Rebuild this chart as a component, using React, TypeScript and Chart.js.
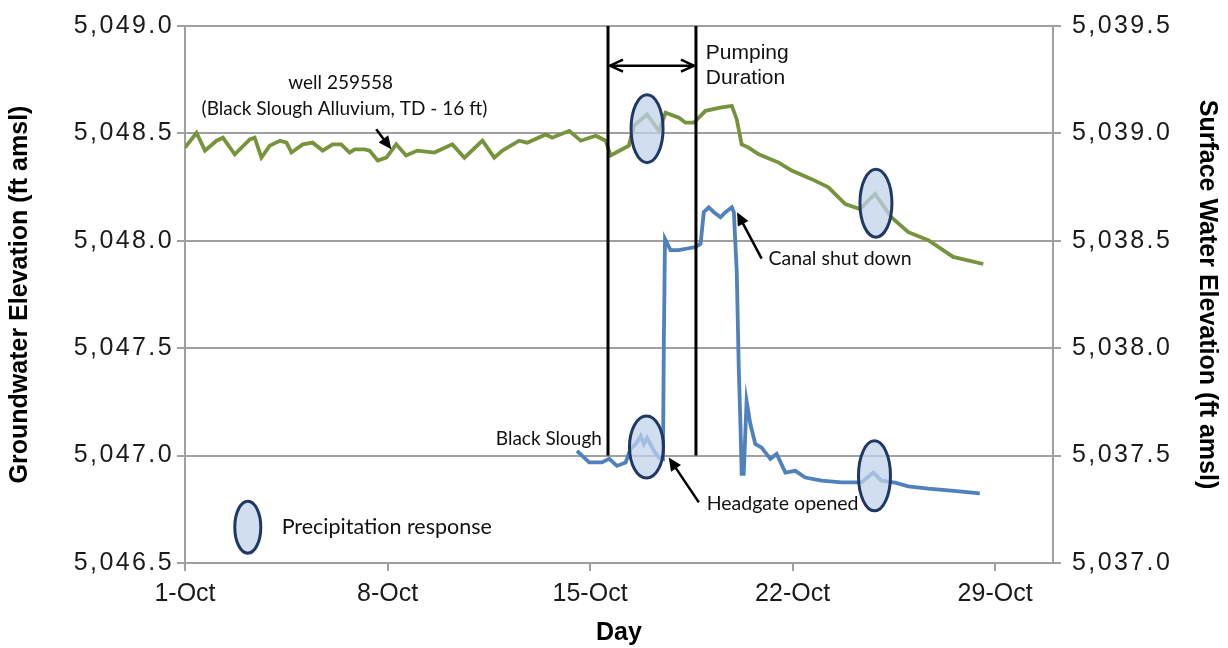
import React, { useEffect, useRef } from 'react';
import { Chart, registerables } from 'chart.js';

Chart.register(...registerables);

// ---- Data (day offset from 1-Oct, elevation ft amsl) ----
const gwDays = [0, 0.4, 0.69, 1.09, 1.31, 1.72, 2.24, 2.41, 2.64, 2.93, 3.28, 3.51, 3.68, 4.07, 4.41, 4.76, 5.1, 5.4, 5.69, 5.86, 6.21, 6.38, 6.66, 6.96, 7.3, 7.64, 8.03, 8.62, 9.24, 9.66, 10.28, 10.69, 10.97, 11.55, 11.83, 12.47, 12.69, 13.28, 13.68, 14.2, 14.54, 14.71, 15.34, 15.52, 15.97, 16.38, 16.61, 17.07, 17.3, 17.59, 17.99, 18.45, 18.9, 19.07, 19.24, 19.48, 19.83, 20.52, 20.97, 21.66, 22.24, 22.82, 23.33, 23.85, 24.41, 25.0, 25.69, 26.55, 27.59];
const gwElev = [5048.434, 5048.503, 5048.42, 5048.466, 5048.48, 5048.403, 5048.472, 5048.48, 5048.387, 5048.443, 5048.466, 5048.457, 5048.411, 5048.449, 5048.457, 5048.42, 5048.449, 5048.449, 5048.411, 5048.426, 5048.426, 5048.42, 5048.374, 5048.387, 5048.449, 5048.397, 5048.42, 5048.411, 5048.449, 5048.387, 5048.466, 5048.387, 5048.42, 5048.466, 5048.457, 5048.495, 5048.48, 5048.512, 5048.466, 5048.489, 5048.466, 5048.397, 5048.443, 5048.536, 5048.588, 5048.512, 5048.596, 5048.573, 5048.55, 5048.55, 5048.605, 5048.619, 5048.628, 5048.565, 5048.449, 5048.434, 5048.403, 5048.364, 5048.327, 5048.287, 5048.249, 5048.171, 5048.148, 5048.218, 5048.11, 5048.04, 5048.003, 5047.925, 5047.892];

const swDays = [13.55, 13.97, 14.41, 14.66, 14.93, 15.23, 15.4, 15.58, 15.75, 15.86, 15.97, 16.21, 16.38, 16.52, 16.55, 16.59, 16.78, 17.07, 17.64, 17.82, 17.93, 18.1, 18.28, 18.51, 18.68, 18.9, 18.97, 19.07, 19.14, 19.2, 19.24, 19.31, 19.41, 19.54, 19.71, 19.93, 20.23, 20.45, 20.75, 21.09, 21.44, 22.0, 22.69, 23.38, 23.79, 24.07, 24.54, 25.0, 25.69, 26.48, 27.47];
const swElev = [5037.522, 5037.468, 5037.468, 5037.485, 5037.452, 5037.468, 5037.531, 5037.554, 5037.591, 5037.554, 5037.583, 5037.522, 5037.491, 5037.485, 5038.031, 5038.509, 5038.457, 5038.457, 5038.471, 5038.486, 5038.633, 5038.656, 5038.633, 5038.61, 5038.633, 5038.656, 5038.633, 5038.355, 5037.907, 5037.63, 5037.415, 5037.415, 5037.753, 5037.647, 5037.554, 5037.537, 5037.485, 5037.508, 5037.421, 5037.429, 5037.398, 5037.383, 5037.375, 5037.375, 5037.421, 5037.383, 5037.374, 5037.357, 5037.346, 5037.337, 5037.324];

const xTickDays = [0, 7, 14, 21, 28];
const monthName = 'Oct';
const pumpingStartDay = 14.62;
const pumpingEndDay = 17.66;

// ---- Annotation layout (data coordinates on the left axis) ----
const precipEllipses = [
  { d: 15.97, v: 5048.522, rx: 16, ry: 34 },
  { d: 23.88, v: 5048.175, rx: 16, ry: 34 },
  { d: 15.95, v: 5047.04, rx: 17, ry: 31 },
  { d: 23.83, v: 5046.906, rx: 16, ry: 35 },
];
const legendEllipse = { d: 2.17, v: 5046.667, rx: 13, ry: 26 };

const CAL = 'Lato, "Open Sans", sans-serif';
const ARI = '"Liberation Sans", Arial, sans-serif';

const labels = [
  { text: 'well 259558', d: 5.38, v: 5048.735, align: 'center', font: `19px ${CAL}` },
  { text: '(Black Slough Alluvium, TD - 16 ft)', d: 5.51, v: 5048.615, align: 'center', font: `19px ${CAL}` },
  { text: 'Pumping', d: 18.0, v: 5048.874, align: 'left', font: `21px ${ARI}` },
  { text: 'Duration', d: 18.0, v: 5048.758, align: 'left', font: `21px ${ARI}` },
  { text: 'Canal shut down', d: 20.17, v: 5047.917, align: 'left', font: `19.5px ${CAL}` },
  { text: 'Headgate opened', d: 18.03, v: 5046.776, align: 'left', font: `19.5px ${CAL}` },
  { text: 'Black Slough', d: 14.41, v: 5047.077, align: 'right', font: `19px ${CAL}` },
  { text: 'Precipitation response', d: 3.34, v: 5046.667, align: 'left', font: `21.5px ${CAL}` },
];

const arrows = [
  { d1: 6.61, v1: 5048.519, d2: 7.13, v2: 5048.426 },
  { d1: 19.93, v1: 5047.917, d2: 19.08, v2: 5048.133 },
  { d1: 17.76, v1: 5046.782, d2: 16.72, v2: 5046.991 },
];
const pumpArrowValue = 5048.815;
const pumpLineBottom = 5047.0;

function head(ctx: CanvasRenderingContext2D, x1: number, y1: number, x2: number, y2: number, len: number, half: number, filled: boolean) {
  const a = Math.atan2(y2 - y1, x2 - x1);
  const lx = x2 - len * Math.cos(a);
  const ly = y2 - len * Math.sin(a);
  const nx = -Math.sin(a) * half;
  const ny = Math.cos(a) * half;
  ctx.beginPath();
  if (filled) {
    ctx.moveTo(x2, y2);
    ctx.lineTo(lx + nx, ly + ny);
    ctx.lineTo(lx - nx, ly - ny);
    ctx.closePath();
    ctx.fill();
  } else {
    ctx.moveTo(lx + nx, ly + ny);
    ctx.lineTo(x2, y2);
    ctx.lineTo(lx - nx, ly - ny);
    ctx.stroke();
  }
}

// widen spacing of the value-axis tick labels, as in the original
const spacingPlugin = {
  id: 'tickSpacing',
  afterLayout(chart: any) {
    ['y', 'y2'].forEach((id) => {
      const sc = chart.scales[id];
      if (!sc || sc._spacedPatch) return;
      const orig = sc.drawLabels.bind(sc);
      sc.drawLabels = (area: any) => {
        const c = chart.ctx;
        const prev = c.letterSpacing;
        c.letterSpacing = '2.4px';
        orig(area);
        c.letterSpacing = prev || '0px';
      };
      sc._spacedPatch = true;
    });
  },
};

const annotPlugin = {
  id: 'annots',
  afterDatasetsDraw(chart: any) {
    const { ctx, scales } = chart;
    const xs = scales.x;
    const ys = scales.y;
    const px = (d: number) => xs.getPixelForValue(d);
    const py = (v: number) => ys.getPixelForValue(v);
    ctx.save();

    // pumping lines
    ctx.strokeStyle = '#000';
    ctx.lineWidth = 3;
    [pumpingStartDay, pumpingEndDay].forEach((d) => {
      ctx.beginPath();
      ctx.moveTo(px(d), ys.top);
      ctx.lineTo(px(d), py(pumpLineBottom));
      ctx.stroke();
    });
    // pumping arrow
    const ay = py(pumpArrowValue);
    const ax1 = px(pumpingStartDay) + 2;
    const ax2 = px(pumpingEndDay) - 2;
    ctx.lineWidth = 2.5;
    ctx.beginPath();
    ctx.moveTo(ax1, ay);
    ctx.lineTo(ax2, ay);
    ctx.stroke();
    head(ctx, ax2, ay, ax1, ay, 13, 6, false);
    head(ctx, ax1, ay, ax2, ay, 13, 6, false);

    // ellipses
    const drawEll = (e: any) => {
      ctx.beginPath();
      ctx.ellipse(px(e.d), py(e.v), e.rx, e.ry, 0, 0, Math.PI * 2);
      ctx.fillStyle = 'rgba(192, 211, 235, 0.74)';
      ctx.fill();
      ctx.lineWidth = 3;
      ctx.strokeStyle = '#1f3864';
      ctx.stroke();
    };
    precipEllipses.forEach(drawEll);
    drawEll(legendEllipse);

    // arrows
    ctx.strokeStyle = '#000';
    ctx.fillStyle = '#000';
    arrows.forEach((a) => {
      const x1 = px(a.d1), y1 = py(a.v1), x2 = px(a.d2), y2 = py(a.v2);
      const ang = Math.atan2(y2 - y1, x2 - x1);
      ctx.lineWidth = 2.5;
      ctx.beginPath();
      ctx.moveTo(x1, y1);
      ctx.lineTo(x2 - 8 * Math.cos(ang), y2 - 8 * Math.sin(ang));
      ctx.stroke();
      head(ctx, x1, y1, x2, y2, 13, 6, true);
    });

    // labels
    ctx.fillStyle = '#111';
    ctx.textBaseline = 'middle';
    ctx.letterSpacing = '0px';
    labels.forEach((l) => {
      ctx.font = l.font;
      ctx.textAlign = l.align;
      ctx.fillText(l.text, px(l.d), py(l.v));
    });
    ctx.restore();
  },
};

const fmt = (v: number) =>
  Number(v).toLocaleString('en-US', { minimumFractionDigits: 1, maximumFractionDigits: 1 });

export default function App() {
  const ref = useRef<HTMLCanvasElement>(null);
  useEffect(() => {
    if (!ref.current) return;
    const tickFont = { family: ARI, size: 25 };
    const titleFont = { family: ARI, size: 25, weight: 'bold' as const };
    const gridColor = '#a0a0a0';
    const chart = new Chart(ref.current, {
      type: 'line',
      data: {
        datasets: [
          {
            label: 'well 259558',
            data: gwDays.map((d, i) => ({ x: d, y: gwElev[i] })),
            borderColor: '#77933c',
            borderWidth: 3.8,
            pointRadius: 0,
            yAxisID: 'y',
            tension: 0,
          },
          {
            label: 'Black Slough',
            data: swDays.map((d, i) => ({ x: d, y: swElev[i] })),
            borderColor: '#4f81bd',
            borderWidth: 3.8,
            pointRadius: 0,
            yAxisID: 'y2',
            tension: 0,
          },
        ],
      },
      options: {
        animation: false,
        responsive: false,
        maintainAspectRatio: false,
        layout: { padding: { top: 23, left: 0, right: 0, bottom: 0 } },
        plugins: { legend: { display: false }, tooltip: { enabled: false } },
        scales: {
          x: {
            type: 'linear',
            min: 0,
            max: 30,
            afterBuildTicks: (s: any) => {
              s.ticks = xTickDays.map((v) => ({ value: v }));
            },
            afterFit: (s: any) => {
              s.height = 85;
            },
            ticks: {
              callback: (v: any) => `${Number(v) + 1}-${monthName}`,
              font: tickFont,
              color: '#1a1a1a',
              padding: 8,
              maxRotation: 0,
              autoSkip: false,
            },
            grid: { drawOnChartArea: false, tickLength: 8, color: gridColor, lineWidth: 2 },
            border: { color: gridColor, width: 2 },
            title: { display: true, text: 'Day', font: titleFont, color: '#000', padding: { top: 0, bottom: 0 } },
          },
          y: {
            type: 'linear',
            position: 'left',
            min: 5046.5,
            max: 5049.0,
            ticks: { stepSize: 0.5, callback: (v: any) => fmt(v), font: tickFont, color: '#1a1a1a', padding: 3 },
            afterFit: (s: any) => {
              s.width = 185;
            },
            grid: { color: gridColor, lineWidth: 2, tickLength: 8 },
            border: { color: gridColor, width: 2 },
            title: { display: true, text: 'Groundwater Elevation (ft amsl)', font: titleFont, color: '#000', padding: { top: 5, bottom: 0 } },
          },
          y2: {
            type: 'linear',
            position: 'right',
            min: 5037.0,
            max: 5039.5,
            ticks: { stepSize: 0.5, callback: (v: any) => fmt(v), font: tickFont, color: '#1a1a1a', padding: 11 },
            afterFit: (s: any) => {
              s.width = 175;
            },
            grid: { drawOnChartArea: false, color: gridColor, lineWidth: 2, tickLength: 8 },
            border: { color: gridColor, width: 2 },
            title: { display: true, text: 'Surface Water Elevation (ft amsl)', font: titleFont, color: '#000', padding: { top: 6, bottom: 0 } },
          },
        },
      },
      plugins: [spacingPlugin, annotPlugin],
    } as any);
    return () => chart.destroy();
  }, []);
  return (
    <div style={{ position: 'fixed', left: 0, top: 0, width: 1228, height: 648, background: '#fff' }}>
      <canvas ref={ref} width={1228} height={648} style={{ width: 1228, height: 648 }} />
    </div>
  );
}
